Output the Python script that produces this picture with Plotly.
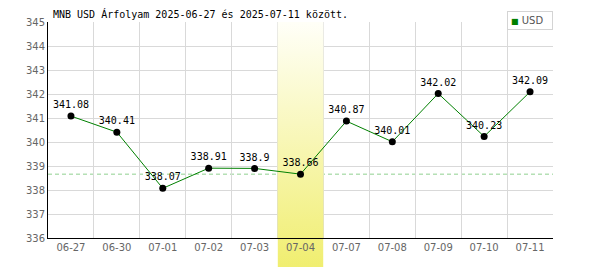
import base64
import plotly.graph_objects as go

# ---- data ----
dates = ["06-27", "06-30", "07-01", "07-02", "07-03", "07-04",
         "07-07", "07-08", "07-09", "07-10", "07-11"]
usd = [341.08, 340.41, 338.07, 338.91, 338.9, 338.66,
       340.87, 340.01, 342.02, 340.23, 342.09]
highlight_date = "07-04"
title_text = "MNB USD Árfolyam 2025-06-27 és 2025-07-11 között."
series_name = "USD"
y_min, y_max = 336, 345

# ---- layout constants ----
W, H = 600, 270
ML, MR, MT, MB = 48, 47, 22, 32
plot_h = H - MT - MB

mono = "DejaVu Sans Mono"
sans = "DejaVu Sans"

xs = list(range(len(dates)))
hi = dates.index(highlight_date)
hi_val = usd[hi]

fig = go.Figure()

# highlight band inside the plot (above grid, below data)
fig.add_trace(go.Scatter(
    x=[hi - 0.5, hi + 0.5, hi + 0.5, hi - 0.5, hi - 0.5],
    y=[y_min, y_min, y_max, y_max, y_min],
    mode="none", fill="toself",
    fillgradient=dict(type="vertical", start=y_min, stop=y_max,
                      colorscale=[[0, "#f2f080"], [1, "#fffff8"]]),
    hoverinfo="skip", showlegend=False,
))

# data line
fig.add_trace(go.Scatter(
    x=xs, y=usd, mode="lines+markers+text",
    line=dict(color="#008000", width=1),
    marker=dict(color="black", size=7),
    text=[str(v) for v in usd], textposition="top center",
    textfont=dict(family=mono, size=10, color="black"),
    cliponaxis=False, showlegend=False, name=series_name,
))

# band continuation below the plot area
svg = ("<svg xmlns='http://www.w3.org/2000/svg' width='10' height='10' "
       "viewBox='0 0 10 10' preserveAspectRatio='none'>"
       "<defs><linearGradient id='g' x1='0' y1='0' x2='0' y2='1'>"
       "<stop offset='0' stop-color='#f2f080'/><stop offset='1' stop-color='#f0ee70'/>"
       "</linearGradient></defs><rect width='10' height='10' fill='url(#g)'/></svg>")
src = "data:image/svg+xml;base64," + base64.b64encode(svg.encode()).decode()
fig.add_layout_image(dict(
    source=src, xref="x", yref="paper", x=hi - 0.5, y=0,
    sizex=1, sizey=29 / plot_h, xanchor="left", yanchor="top",
    sizing="stretch", layer="below",
))

# dashed reference line at highlighted value
fig.add_shape(type="line", xref="paper", yref="y", x0=0, x1=1,
              y0=hi_val, y1=hi_val, layer="below",
              line=dict(color="#8fd08f", width=1, dash="4px,3px"))

# legend box
fig.add_annotation(
    xref="paper", yref="paper", x=1, y=(plot_h + 11) / plot_h,
    xanchor="right", yanchor="top", showarrow=False, align="left",
    text=("<span style='color:#008000;font-size:8px'>■</span> " + series_name
          + "&nbsp;&nbsp;"),
    font=dict(family=sans, size=10, color="#555555"),
    bgcolor="white", bordercolor="#d4d4d4", borderwidth=1, borderpad=3,
)

fig.update_layout(
    width=W, height=H,
    margin=dict(l=ML, r=MR, t=MT, b=MB, pad=0),
    paper_bgcolor="white", plot_bgcolor="white",
    title=dict(text=title_text, xref="container", yref="container",
               x=53 / W, y=1 - 14.5 / H, xanchor="left", yanchor="middle",
               font=dict(family=mono, size=10, color="black")),
    showlegend=False,
)

fig.update_xaxes(
    range=[-0.5, len(dates) - 0.5], tickmode="array", tickvals=xs, ticktext=dates,
    showgrid=False, zeroline=False,
    showline=True, linecolor="black", linewidth=1,
    ticks="", tickfont=dict(family=sans, size=10, color="#666666"),
    minor=dict(tickmode="array", tickvals=[i - 0.5 for i in range(len(dates) + 1)],
               showgrid=True, gridcolor="#d9d9d9", gridwidth=1, ticks=""),
)
fig.update_yaxes(
    range=[y_min, y_max], dtick=1, tick0=y_min,
    showgrid=True, gridcolor="#d9d9d9", gridwidth=1, zeroline=False,
    showline=True, linecolor="black", linewidth=1,
    ticks="", tickfont=dict(family=sans, size=10, color="#666666"),
)

fig.write_html("out.html")
